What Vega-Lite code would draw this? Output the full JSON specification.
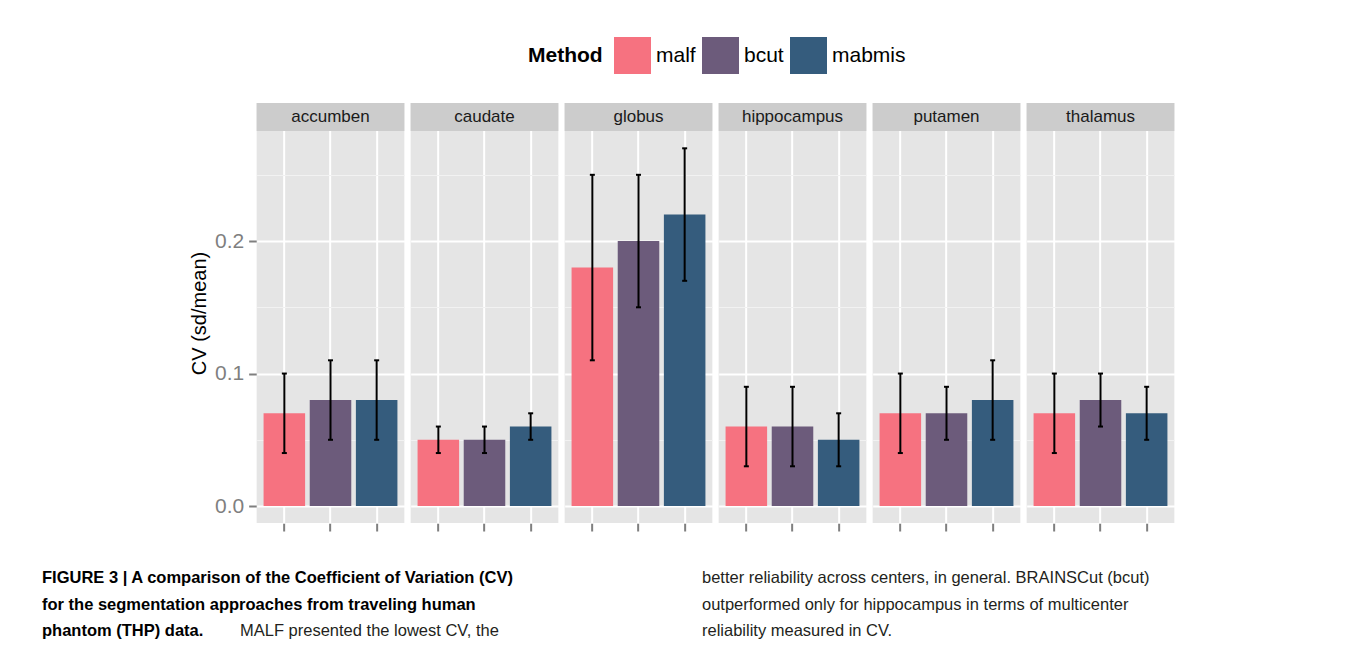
{
  "$schema": "https://vega.github.io/schema/vega-lite/v6.json",
  "background": "white",
  "padding": {"left": 42, "top": 37, "right": 0, "bottom": 0},
  "config": {
    "font": "Liberation Sans",
    "view": {"fill": "#E5E5E5", "stroke": null}
  },
  "datasets": {
    "cv": [
      {"region": "accumben", "method": "malf", "cv": 0.07, "lo": 0.04, "hi": 0.10},
      {"region": "accumben", "method": "bcut", "cv": 0.08, "lo": 0.05, "hi": 0.11},
      {"region": "accumben", "method": "mabmis", "cv": 0.08, "lo": 0.05, "hi": 0.11},
      {"region": "caudate", "method": "malf", "cv": 0.05, "lo": 0.04, "hi": 0.06},
      {"region": "caudate", "method": "bcut", "cv": 0.05, "lo": 0.04, "hi": 0.06},
      {"region": "caudate", "method": "mabmis", "cv": 0.06, "lo": 0.05, "hi": 0.07},
      {"region": "globus", "method": "malf", "cv": 0.18, "lo": 0.11, "hi": 0.25},
      {"region": "globus", "method": "bcut", "cv": 0.20, "lo": 0.15, "hi": 0.25},
      {"region": "globus", "method": "mabmis", "cv": 0.22, "lo": 0.17, "hi": 0.27},
      {"region": "hippocampus", "method": "malf", "cv": 0.06, "lo": 0.03, "hi": 0.09},
      {"region": "hippocampus", "method": "bcut", "cv": 0.06, "lo": 0.03, "hi": 0.09},
      {"region": "hippocampus", "method": "mabmis", "cv": 0.05, "lo": 0.03, "hi": 0.07},
      {"region": "putamen", "method": "malf", "cv": 0.07, "lo": 0.04, "hi": 0.10},
      {"region": "putamen", "method": "bcut", "cv": 0.07, "lo": 0.05, "hi": 0.09},
      {"region": "putamen", "method": "mabmis", "cv": 0.08, "lo": 0.05, "hi": 0.11},
      {"region": "thalamus", "method": "malf", "cv": 0.07, "lo": 0.04, "hi": 0.10},
      {"region": "thalamus", "method": "bcut", "cv": 0.08, "lo": 0.06, "hi": 0.10},
      {"region": "thalamus", "method": "mabmis", "cv": 0.07, "lo": 0.05, "hi": 0.09}
    ],
    "caption": [
      {"col": "left", "line": 1, "part": "heading", "text": "FIGURE 3 | A comparison of the Coefficient of Variation (CV)"},
      {"col": "left", "line": 2, "part": "heading", "text": "for the segmentation approaches from traveling human"},
      {"col": "left", "line": 3, "part": "heading", "text": "phantom (THP) data."},
      {"col": "left", "line": 3, "part": "continuation", "text": "MALF presented the lowest CV, the"},
      {"col": "right", "line": 1, "part": "body", "text": "better reliability across centers, in general. BRAINSCut (bcut)"},
      {"col": "right", "line": 2, "part": "body", "text": "outperformed only for hippocampus in terms of multicenter"},
      {"col": "right", "line": 3, "part": "body", "text": "reliability measured in CV."}
    ]
  },
  "center": true,
  "spacing": 33,
  "vconcat": [
    {
      "data": {"name": "cv"},
      "spacing": 6,
      "facet": {
        "column": {"field": "region", "type": "nominal", "header": {"labels": false, "title": null}}
      },
      "spec": {
        "width": 147.7,
        "height": 420,
        "encoding": {
          "x": {
            "field": "method", "type": "nominal", "sort": ["malf", "bcut", "mabmis"],
            "scale": {"paddingInner": 0.1, "paddingOuter": 0.15},
            "axis": {
              "title": null, "labels": false, "domain": false, "bandPosition": 0.5,
              "ticks": true, "tickColor": "#7F7F7F", "tickWidth": 2, "tickSize": 8,
              "grid": true, "gridColor": "#FFFFFF", "gridWidth": 2, "gridOpacity": 1
            }
          }
        },
        "layer": [
          {
            "mark": {"type": "bar"},
            "encoding": {
              "y": {
                "field": "cv", "type": "quantitative",
                "scale": {"domain": [-0.0128, 0.3042], "nice": false, "zero": false},
                "axis": {
                  "title": "CV (sd/mean)", "titleFontSize": 20, "titleFontWeight": "normal", "titleColor": "#000000", "titlePadding": 5,
                  "values": [0, 0.05, 0.1, 0.15, 0.2, 0.25],
                  "labelExpr": "abs(datum.value*10 - round(datum.value*10)) < 0.001 ? format(datum.value, '.1f') : ''",
                  "labelFontSize": 21, "labelColor": "#7F7F7F", "labelPadding": 5,
                  "domain": false, "tickColor": "#7F7F7F", "tickWidth": 2, "tickSize": 8,
                  "tickOpacity": {"condition": {"test": "abs(datum.value*10 - round(datum.value*10)) < 0.001", "value": 1}, "value": 0},
                  "grid": true, "gridColor": {"condition": {"test": "abs(datum.value*10 - round(datum.value*10)) < 0.001", "value": "#FFFFFF"}, "value": "#F2F2F2"},
                  "gridWidth": {"condition": {"test": "abs(datum.value*10 - round(datum.value*10)) < 0.001", "value": 2}, "value": 1},
                  "gridOpacity": 1
                }
              },
              "color": {
                "field": "method", "type": "nominal",
                "scale": {"domain": ["malf", "bcut", "mabmis"], "range": ["#F67280", "#6C5B7B", "#355C7D"]},
                "legend": {
                  "orient": "none", "legendX": 486, "legendY": -66, "direction": "horizontal",
                  "title": "Method", "titleOrient": "left", "titleFontSize": 21, "titleFontWeight": "bold", "titleColor": "#000000",
                  "titlePadding": 11, "titleBaseline": "middle",
                  "labelFontSize": 21, "labelColor": "#000000", "labelOffset": 5,
                  "symbolType": "square", "symbolSize": 1369, "symbolStrokeWidth": 0, "symbolOpacity": 1,
                  "columnPadding": 6, "padding": 0
                }
              }
            }
          },
          {
            "mark": {"type": "rule", "color": "#000000", "strokeWidth": 2},
            "encoding": {
              "y": {"field": "lo", "type": "quantitative"},
              "y2": {"field": "hi"}
            }
          },
          {
            "mark": {"type": "tick", "color": "#000000", "size": 5, "thickness": 2, "opacity": 1},
            "encoding": {"y": {"field": "lo", "type": "quantitative"}}
          },
          {
            "mark": {"type": "tick", "color": "#000000", "size": 5, "thickness": 2, "opacity": 1},
            "encoding": {"y": {"field": "hi", "type": "quantitative"}}
          },
          {
            "transform": [{"filter": "datum.method === 'malf'"}],
            "mark": {"type": "rect", "color": "#CCCCCC"},
            "encoding": {
              "x": null,
              "y": {"datum": 0.283, "type": "quantitative"},
              "y2": {"datum": 0.3042}
            }
          },
          {
            "transform": [{"filter": "datum.method === 'malf'"}],
            "mark": {"type": "text", "fontSize": 17, "color": "#1A1A1A", "baseline": "middle", "align": "center"},
            "encoding": {
              "x": null,
              "y": {"datum": 0.2936, "type": "quantitative"},
              "text": {"field": "region"}
            }
          }
        ]
      }
    },
    {
      "data": {"name": "caption"},
      "width": 1347,
      "height": 79.5,
      "view": {"fill": null, "stroke": null},
      "encoding": {
        "x": {"field": "col", "type": "nominal", "bandPosition": 0,
              "scale": {"type": "band", "domain": ["left", "right"], "paddingInner": 0, "paddingOuter": 0.0205, "align": 0}, "axis": null},
        "y": {"field": "line", "type": "ordinal", "scale": {"type": "point", "padding": 0.5}, "axis": null},
        "text": {"field": "text"}
      },
      "layer": [
        {
          "transform": [{"filter": "datum.part === 'heading'"}],
          "mark": {"type": "text", "align": "left", "baseline": "middle", "fontSize": 16.5, "fontWeight": "bold", "color": "#000000"}
        },
        {
          "transform": [{"filter": "datum.part === 'body'"}],
          "mark": {"type": "text", "align": "left", "baseline": "middle", "fontSize": 16.5, "color": "#231F20"}
        },
        {
          "transform": [{"filter": "datum.part === 'continuation'"}],
          "mark": {"type": "text", "align": "left", "baseline": "middle", "fontSize": 16.5, "color": "#231F20", "dx": 198}
        }
      ]
    }
  ]
}
